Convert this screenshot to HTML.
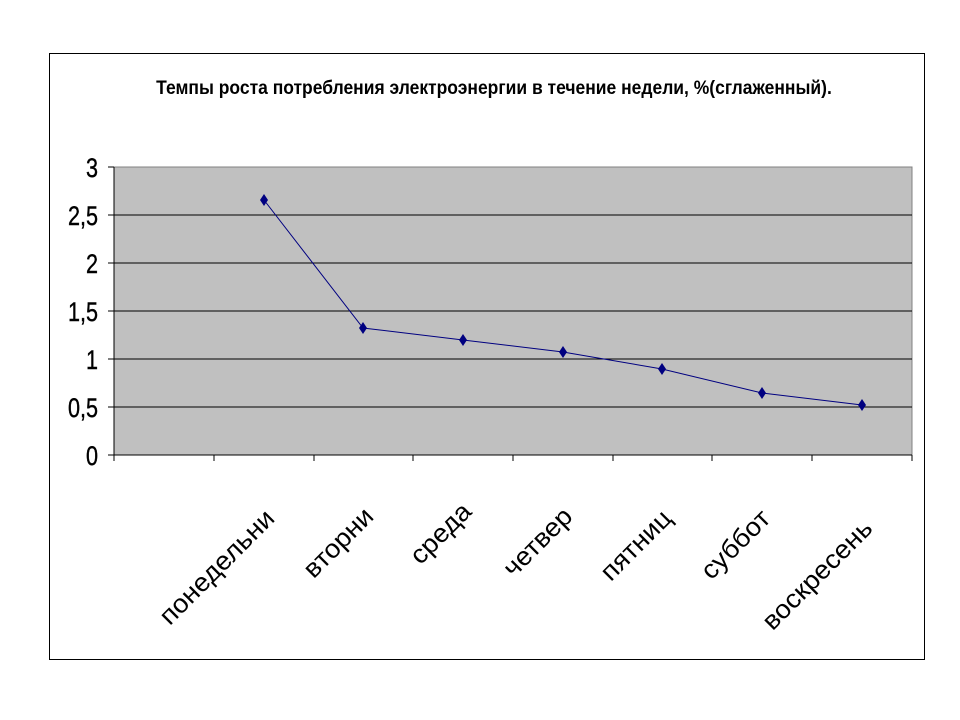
<!DOCTYPE html>
<html><head><meta charset="utf-8"><style>body{margin:0;background:#fff}svg{display:block}</style></head><body>
<svg width="960" height="720" xmlns="http://www.w3.org/2000/svg" font-family="Liberation Sans, sans-serif">
<rect x="49.5" y="53.5" width="875" height="606" fill="#fff" stroke="#000" stroke-width="1"/>
<text transform="translate(494,94) scale(0.92,1)" text-anchor="middle" font-size="19" font-weight="bold">Темпы роста потребления электроэнергии в течение недели, %(сглаженный).</text>
<rect x="114" y="167" width="798" height="288" fill="#c0c0c0" stroke="#808080"/>
<g stroke="#000" stroke-width="1">
<line x1="114" y1="215" x2="912" y2="215"/><line x1="114" y1="263" x2="912" y2="263"/>
<line x1="114" y1="311" x2="912" y2="311"/><line x1="114" y1="359" x2="912" y2="359"/>
<line x1="114" y1="407" x2="912" y2="407"/>
<line x1="114" y1="167" x2="114" y2="461"/><line x1="108" y1="455" x2="912" y2="455"/>
<line x1="108" y1="167" x2="114" y2="167"/><line x1="108" y1="215" x2="114" y2="215"/><line x1="108" y1="263" x2="114" y2="263"/><line x1="108" y1="311" x2="114" y2="311"/><line x1="108" y1="359" x2="114" y2="359"/><line x1="108" y1="407" x2="114" y2="407"/>
<line x1="214" y1="455" x2="214" y2="461"/><line x1="314" y1="455" x2="314" y2="461"/><line x1="413" y1="455" x2="413" y2="461"/><line x1="513" y1="455" x2="513" y2="461"/><line x1="613" y1="455" x2="613" y2="461"/><line x1="712" y1="455" x2="712" y2="461"/><line x1="812" y1="455" x2="812" y2="461"/><line x1="912" y1="455" x2="912" y2="461"/>
</g>
<g font-size="27" text-anchor="end" stroke="#000" stroke-width="0.4">
<text transform="translate(98,177) scale(0.8,1)">3</text>
<text transform="translate(98,225) scale(0.8,1)">2,5</text>
<text transform="translate(98,273) scale(0.8,1)">2</text>
<text transform="translate(98,321) scale(0.8,1)">1,5</text>
<text transform="translate(98,369) scale(0.8,1)">1</text>
<text transform="translate(98,417) scale(0.8,1)">0,5</text>
<text transform="translate(98,465) scale(0.8,1)">0</text>
</g>
<polyline points="264,200 363,328 463,340 563,352 662,369 762,393 862,405" fill="none" stroke="#000080" stroke-width="1"/>
<g fill="#000080">
<path d="M264,194l4,6l-4,6l-4,-6z"/><path d="M363,322l4,6l-4,6l-4,-6z"/><path d="M463,334l4,6l-4,6l-4,-6z"/><path d="M563,346l4,6l-4,6l-4,-6z"/><path d="M662,363l4,6l-4,6l-4,-6z"/><path d="M762,387l4,6l-4,6l-4,-6z"/><path d="M862,399l4,6l-4,6l-4,-6z"/>
</g>
<g font-size="26" text-anchor="end">
<text transform="translate(276,520) rotate(-45) scale(1.05,1)">понедельни</text>
<text transform="translate(375,518) rotate(-45) scale(1.05,1)">вторни</text>
<text transform="translate(473,513) rotate(-45) scale(1.05,1)">среда</text>
<text transform="translate(574,518) rotate(-45) scale(1.05,1)">четвер</text>
<text transform="translate(673,520) rotate(-45) scale(1.05,1)">пятниц</text>
<text transform="translate(772,520) rotate(-45) scale(1.05,1)">суббот</text>
<text transform="translate(874,530) rotate(-45) scale(1.05,1)">воскресень</text>
</g>
</svg>
</body></html>
